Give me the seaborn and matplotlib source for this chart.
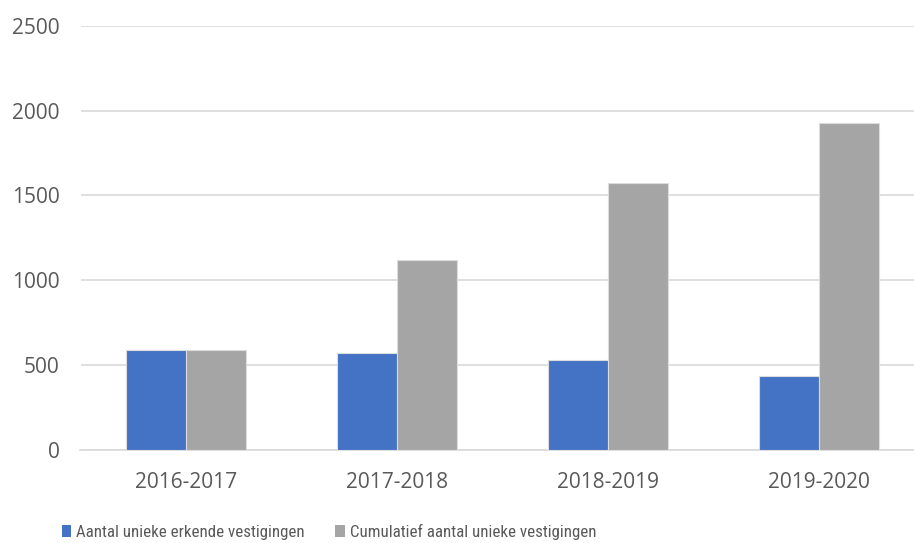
import pandas as pd
import matplotlib.pyplot as plt
import seaborn as sns
from matplotlib.patches import Patch

# Data
jaren = ['2016-2017', '2017-2018', '2018-2019', '2019-2020']
unieke_erkend = [590, 570, 530, 436]
cumulatief = [590, 1120, 1572, 1925]
reeksen = ['Aantal unieke erkende vestigingen', 'Cumulatief aantal unieke vestigingen']
kleuren = ['#4472C4', '#A5A5A5']

df = pd.DataFrame({
    'jaar': jaren * 2,
    'aantal': unieke_erkend + cumulatief,
    'reeks': [reeksen[0]] * len(jaren) + [reeksen[1]] * len(jaren),
})

sns.set_theme(style='white')
plt.rcParams['font.family'] = ['Open Sans', 'DejaVu Sans']

W, H = 914, 543
fig = plt.figure(figsize=(W / 100, H / 100), dpi=100)
# plot area: x 80.5..914 px, y 25.7..450 px
ax = fig.add_axes([80.5 / W, (H - 450) / H, (W - 80.5) / W, 424.3 / H])

sns.barplot(data=df, x='jaar', y='aantal', hue='reeks', palette=kleuren,
            saturation=1, width=0.57, ax=ax, edgecolor='#dcdcdc', linewidth=0.8,
            legend=False, zorder=3)

ax.set_ylim(0, 2500)
ax.set_yticks(range(0, 2501, 500))
ax.set_xlim(-0.5, -0.5 + (W - 80.5) / 211)
ax.grid(axis='y', color='#d9d9d9', linewidth=1.2, zorder=0)
ax.set_axisbelow(True)
for s in ['top', 'right', 'left']:
    ax.spines[s].set_visible(False)
ax.spines['bottom'].set_color('#d9d9d9')
ax.spines['bottom'].set_linewidth(1.2)
ax.set_xlabel('')
ax.set_ylabel('')
ax.tick_params(axis='y', length=0, pad=15, labelsize=15, labelcolor='#595959')
ax.tick_params(axis='x', length=0, pad=16, labelsize=15, labelcolor='#595959')

handles = [Patch(facecolor=k, edgecolor='none') for k in kleuren]
fig.legend(handles, reeksen, loc='center', bbox_to_anchor=(329 / W, (H - 532) / H),
           ncol=2, frameon=False, handlelength=0.55, handleheight=0.75,
           handletextpad=0.3, columnspacing=1.8,
           prop={'family': ['Roboto Condensed', 'Roboto'], 'size': 12.2},
           labelcolor='#595959')

fig.savefig('out.png', dpi=100)
